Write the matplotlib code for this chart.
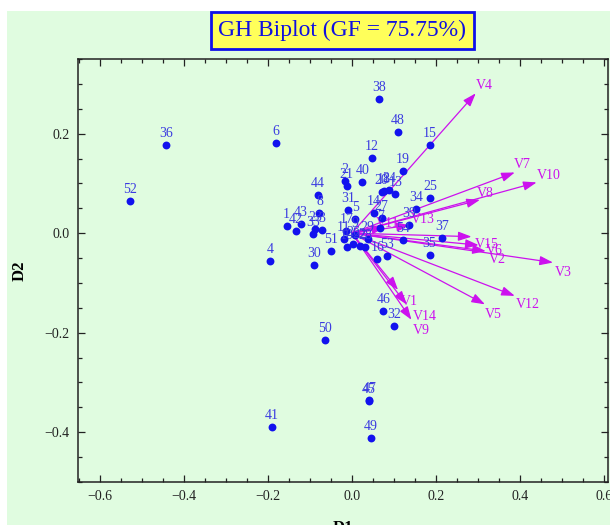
import matplotlib
matplotlib.use("Agg")
import matplotlib.pyplot as plt
from matplotlib.patches import Rectangle
from matplotlib.ticker import MultipleLocator

plt.rcParams["font.family"] = ["Liberation Serif", "DejaVu Serif"]

# row markers (objects)
ids = [str(i) for i in range(1, 55)]
d1 = [-0.155, -0.016, -0.072, -0.195, 0.008, -0.181, 0.068, -0.077, 0.007, -0.012,
      -0.019, 0.048, 0.104, 0.053, 0.186, 0.061, -0.013, 0.077, 0.121, 0.071,
      -0.012, 0.019, -0.088, 0.089, 0.186, 0.003, 0.071, 0.031, 0.038, -0.089,
      -0.008, 0.101, -0.092, 0.153, 0.185, -0.443, 0.214, 0.064, 0.136, 0.025,
      -0.190, -0.133, -0.122, -0.081, 0.040, 0.075, 0.042, 0.109, 0.045, -0.064,
      -0.049, -0.529, 0.083, 0.121]
d2 = [0.015, 0.104, 0.007, -0.055, 0.028, 0.181, 0.011, 0.040, -0.004, -0.027,
      -0.012, 0.151, 0.079, 0.040, 0.177, -0.052, 0.005, 0.084, 0.125, 0.082,
      0.094, -0.026, 0.009, 0.087, 0.070, -0.021, 0.030, -0.027, -0.012, -0.063,
      0.046, -0.187, -0.002, 0.048, -0.044, 0.177, -0.009, 0.270, 0.017, 0.103,
      -0.390, 0.005, 0.019, 0.076, -0.337, -0.156, -0.335, 0.203, -0.412, -0.215,
      -0.035, 0.064, -0.046, -0.013]

# column markers (variables)
vars_ = ["V1", "V2", "V3", "V4", "V5", "V6", "V7", "V8", "V9", "V10",
         "V11", "V12", "V13", "V14", "V15"]
v1 = [0.110, 0.319, 0.479, 0.295, 0.317, 0.302, 0.388, 0.305, 0.142, 0.440,
      0.079, 0.388, 0.138, 0.130, 0.285]
v2 = [-0.114, -0.036, -0.059, 0.281, -0.143, -0.024, 0.122, 0.067, -0.174, 0.102,
      0.012, -0.126, 0.016, -0.143, -0.007]

# where each variable name sits relative to its arrow tip (pixels)
lab_off = {"V1": (11, -12), "V2": (12, -8), "V3": (10, -10), "V4": (9, 8),
           "V5": (8, -10), "V6": (16, -5), "V7": (8, 8), "V8": (5, 6),
           "V9": (10, -11), "V10": (12, 7), "V11": (3, 4), "V12": (13, -9),
           "V13": (13, 6), "V14": (18, -12), "V15": (15, -8)}

BG = "#e0fce0"
PT = "#1212ee"
ARR = "#cc11ee"

fig = plt.figure(figsize=(6.1, 5.25), dpi=100, facecolor="white")
fig.patches.append(Rectangle((7 / 610, 0), 1, 1 - 11 / 525, transform=fig.transFigure,
                             facecolor=BG, edgecolor="none", zorder=-10))

ax = fig.add_axes([78 / 610, 1 - 482 / 525, 530 / 610, 423 / 525])
ax.set_facecolor(BG)

for vx, vy, name in zip(v1, v2, vars_):
    ax.annotate("", xy=(vx, vy), xytext=(0, 0),
                arrowprops=dict(arrowstyle="-|>,head_length=0.8,head_width=0.28",
                                color=ARR, lw=0.9, shrinkA=0, shrinkB=0))
    ax.annotate(name, (vx, vy), xytext=lab_off[name], textcoords="offset pixels",
                ha="center", va="center", fontsize=10, color=ARR)

ax.scatter(d1, d2, s=32, color=PT, zorder=3, linewidths=0)
for x, y, t in zip(d1, d2, ids):
    ax.annotate(t, (x, y), xytext=(0, 5), textcoords="offset pixels",
                ha="center", va="bottom", fontsize=10, color="#3b3be0", zorder=4)

ax.set_xlim(-0.652, 0.61)
ax.set_ylim(-0.5, 0.35)
ax.xaxis.set_major_locator(MultipleLocator(0.2))
ax.xaxis.set_minor_locator(MultipleLocator(0.05))
ax.yaxis.set_major_locator(MultipleLocator(0.2))
ax.yaxis.set_minor_locator(MultipleLocator(0.05))
ax.tick_params(which="both", direction="in", top=True, right=True,
               colors="#222222", labelsize=10, pad=6, width=0.9)
ax.tick_params(which="major", length=5)
ax.tick_params(which="minor", length=3.2)
for s in ax.spines.values():
    s.set_color("#222222")
    s.set_linewidth(1.1)

ax.set_xlabel("D1", fontsize=12, fontweight="bold", labelpad=12)
ax.set_ylabel("D2", fontsize=12, fontweight="bold", labelpad=12)

fig.text(0.561, 0.942, "GH Biplot (GF = 75.75%)", ha="center", va="center",
         fontsize=17, color="#1010e0",
         bbox=dict(boxstyle="square,pad=0.32", facecolor="#ffff5a",
                   edgecolor="#1010e8", linewidth=2))

fig.savefig("out.png", dpi=100, facecolor=fig.get_facecolor())
